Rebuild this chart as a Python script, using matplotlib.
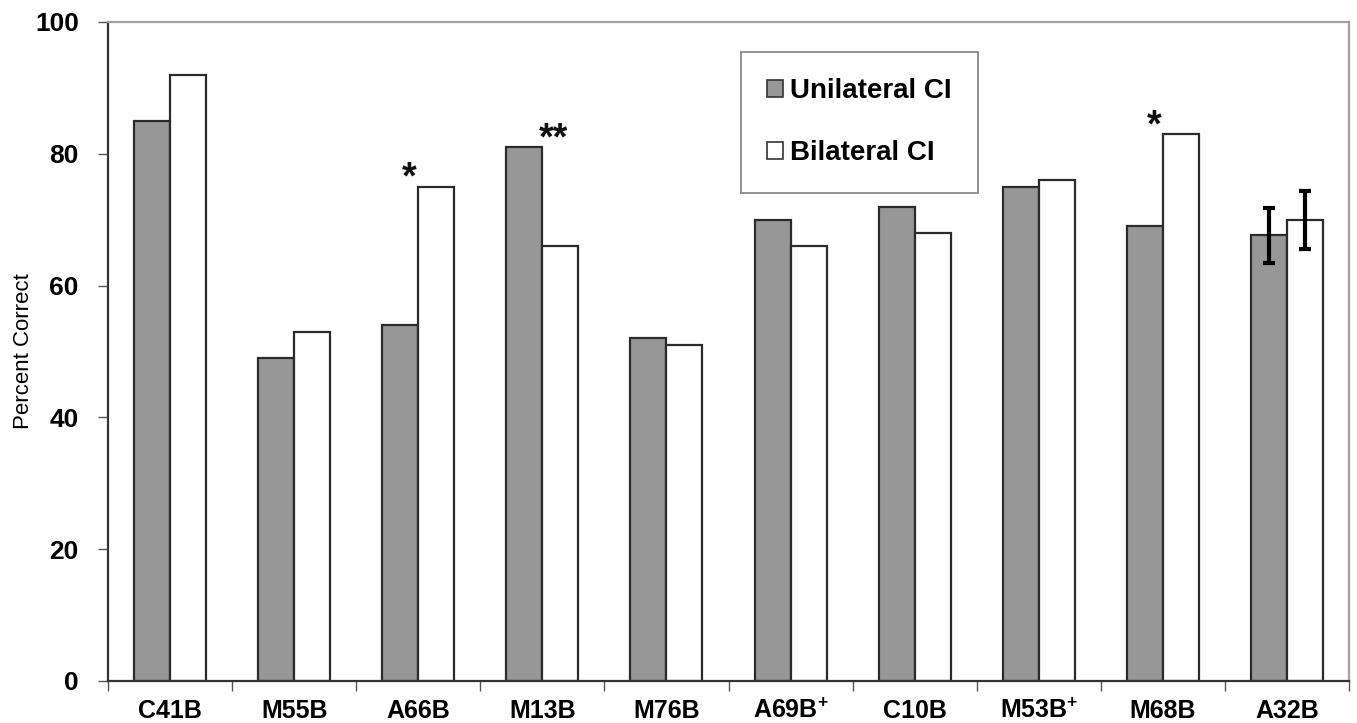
import numpy as np
import matplotlib
matplotlib.use("Agg")
import matplotlib.pyplot as plt
from matplotlib.patches import Patch

plt.rcParams["font.family"] = ["Liberation Sans", "DejaVu Sans"]
plt.rcParams["mathtext.fontset"] = "custom"
plt.rcParams["mathtext.rm"] = "Liberation Sans"
plt.rcParams["mathtext.bf"] = "Liberation Sans:bold"
plt.rcParams["mathtext.default"] = "bf"

# ── data ──────────────────────────────────────────────────────────────────────
subjects   = ["C41B", "M55B", "A66B", "M13B", "M76B",
              "A69B$^{+}$", "C10B", "M53B$^{+}$", "M68B", "A32B"]
unilateral = [85, 49, 54, 81, 52, 70, 72, 75, 69, 67.6]
bilateral  = [92, 53, 75, 66, 51, 66, 68, 76, 83, 69.9]
uni_err    = [0, 0, 0, 0, 0, 0, 0, 0, 0, 4.2]
bi_err     = [0, 0, 0, 0, 0, 0, 0, 0, 0, 4.4]
sig_marks  = ["", "", "*", "**", "", "", "", "", "*", ""]
sig_shift  = [0, 0, -0.07, 0.09, 0, 0, 0, 0, -0.07, 0]

yticks = [0, 20, 40, 60, 80, 100]

# ── plot ──────────────────────────────────────────────────────────────────────
fig = plt.figure(figsize=(13.57, 7.23), dpi=100)
ax = fig.add_axes([0.0796, 0.0581, 0.9145, 0.9115])

x = np.arange(len(subjects))
w = 0.29
gray = "#979797"

ax.bar(x - w / 2, unilateral, width=w, color=gray, edgecolor="#2b2b2b",
       linewidth=1.6, zorder=2)
ax.bar(x + w / 2, bilateral, width=w, color="white", edgecolor="#2b2b2b",
       linewidth=1.6, zorder=2)

# error bars only where given
for i in range(len(x)):
    if uni_err[i] > 0:
        ax.errorbar(x[i] - w / 2, unilateral[i], yerr=uni_err[i], fmt="none",
                    ecolor="black", elinewidth=3, capsize=4, capthick=3, zorder=3)
    if bi_err[i] > 0:
        ax.errorbar(x[i] + w / 2, bilateral[i], yerr=bi_err[i], fmt="none",
                    ecolor="black", elinewidth=3, capsize=4, capthick=3, zorder=3)

# significance stars
for i, s in enumerate(sig_marks):
    if s:
        top = max(unilateral[i], bilateral[i])
        ax.text(x[i] + sig_shift[i], top - 0.3, s, ha="center", va="baseline",
                fontsize=27, fontweight="bold", color="#111111")

ax.set_xlim(-0.5, len(subjects) - 0.5)
ax.set_ylim(0, 100)
ax.set_yticks(yticks)
ax.set_yticklabels([str(t) for t in yticks], fontsize=19, fontweight="bold")
ax.set_xticks(x)
ax.set_xticklabels(subjects, fontsize=18, fontweight="bold")
ax.set_xticks(np.arange(-0.5, len(subjects)), minor=True)
ax.tick_params(axis="x", which="major", length=0, pad=13)
ax.tick_params(axis="x", which="minor", length=7, width=1, color="#555555",
               direction="out")
ax.tick_params(axis="y", length=7, width=1, color="#555555", direction="out",
               pad=14)

ax.set_ylabel("Percent Correct", fontsize=16)
ax.yaxis.set_label_coords(-0.060, 0.5)

for side in ["left", "bottom"]:
    ax.spines[side].set_color("#333333")
    ax.spines[side].set_linewidth(1.6)
for side in ["top", "right"]:
    ax.spines[side].set_color("#a0a0a0")
    ax.spines[side].set_linewidth(1.6)

handles = [Patch(facecolor=gray, edgecolor="#333333", linewidth=1.2),
           Patch(facecolor="white", edgecolor="#333333", linewidth=1.2)]
leg = ax.legend(handles, ["Unilateral CI", "Bilateral CI"],
                loc="upper left", bbox_to_anchor=(0.51, 0.955),
                borderaxespad=0, fancybox=False, framealpha=1,
                prop={"size": 20, "weight": "bold"},
                handlelength=0.55, handleheight=0.55, handletextpad=0.25,
                labelspacing=1.3, borderpad=0.95)
leg.get_frame().set_edgecolor("#888888")
leg.get_frame().set_linewidth(1.3)

fig.savefig("out.png", dpi=100)
